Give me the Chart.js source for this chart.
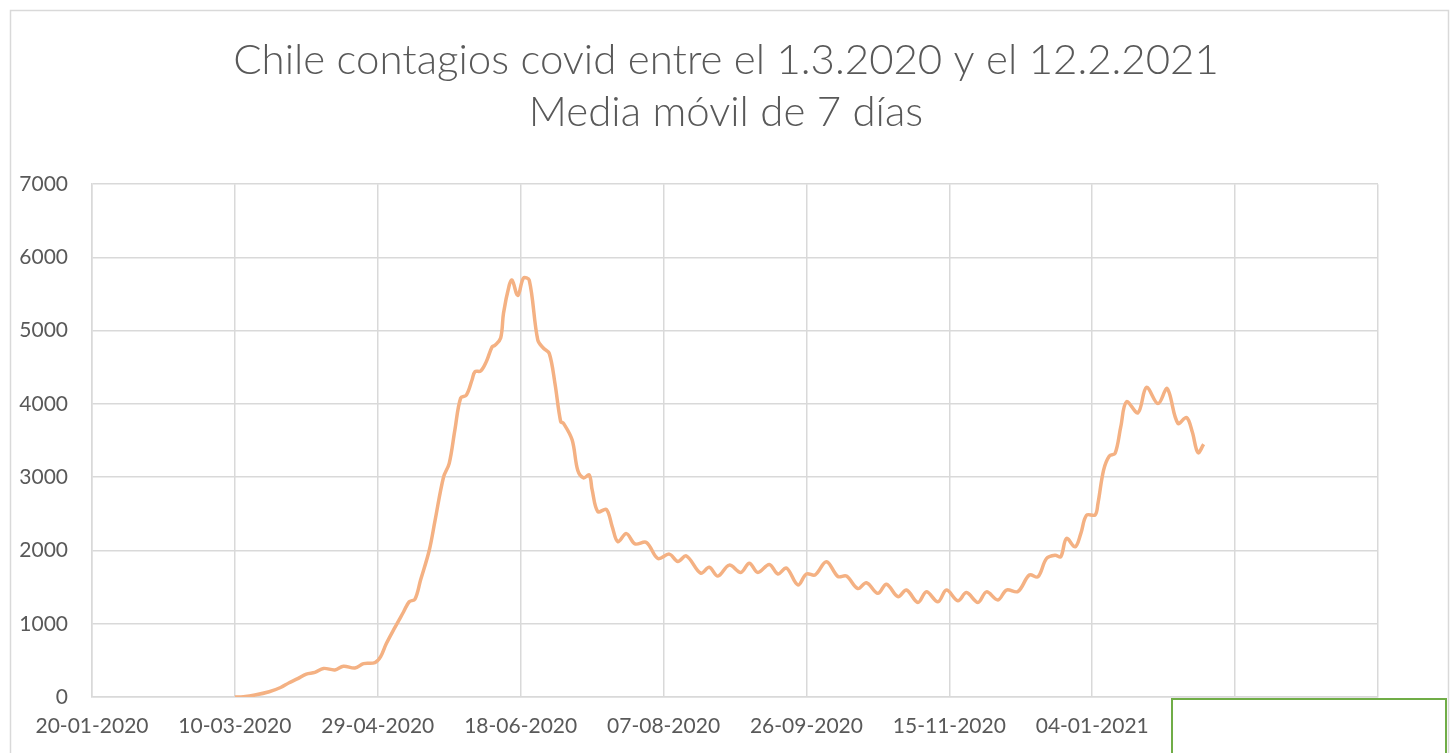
<!DOCTYPE html>
<html>
<head>
<meta charset="utf-8">
<script src="https://cdn.jsdelivr.net/npm/chart.js@4"></script>
<style>
  html, body { margin: 0; padding: 0; background: #fff; }
  #wrap { width: 1452px; height: 753px; position: relative; }
</style>
</head>
<body>
<div id="wrap"><canvas id="chart" width="1452" height="753"></canvas></div>
<script>
const TITLE_LINES = [
  'Chile contagios covid entre el 1.3.2020 y el 12.2.2021',
  'Media móvil de 7 días',
];

// eje x: días desde el 20-01-2020, ticks cada 50 días
const AXIS_START = '2020-01-20';
const X_MAX_DAYS = 450;
const X_STEP_DAYS = 50;
const Y_TICKS = [0, 1000, 2000, 3000, 4000, 5000, 6000, 7000];

const fechas = [
  '2020-03-10', '2020-03-13', '2020-03-17', '2020-03-22', '2020-03-26', '2020-03-29',
  '2020-04-01', '2020-04-04', '2020-04-07', '2020-04-10', '2020-04-14', '2020-04-17',
  '2020-04-21', '2020-04-24', '2020-04-28', '2020-04-30', '2020-05-02', '2020-05-05',
  '2020-05-08', '2020-05-10', '2020-05-12', '2020-05-14', '2020-05-17', '2020-05-19',
  '2020-05-22', '2020-05-24', '2020-05-26', '2020-05-28', '2020-05-30', '2020-06-01',
  '2020-06-02', '2020-06-04', '2020-06-06', '2020-06-08', '2020-06-09', '2020-06-11',
  '2020-06-12', '2020-06-14', '2020-06-15', '2020-06-17', '2020-06-19', '2020-06-21',
  '2020-06-24', '2020-06-26', '2020-06-28', '2020-06-30', '2020-07-02', '2020-07-03',
  '2020-07-06', '2020-07-08', '2020-07-10', '2020-07-12', '2020-07-13', '2020-07-15',
  '2020-07-18', '2020-07-20', '2020-07-22', '2020-07-25', '2020-07-28', '2020-08-01',
  '2020-08-05', '2020-08-09', '2020-08-12', '2020-08-15', '2020-08-20', '2020-08-23',
  '2020-08-26', '2020-08-30', '2020-09-03', '2020-09-06', '2020-09-09', '2020-09-13',
  '2020-09-16', '2020-09-19', '2020-09-23', '2020-09-26', '2020-09-29', '2020-10-03',
  '2020-10-07', '2020-10-10', '2020-10-14', '2020-10-17', '2020-10-21', '2020-10-24',
  '2020-10-28', '2020-10-31', '2020-11-04', '2020-11-07', '2020-11-11', '2020-11-14',
  '2020-11-18', '2020-11-21', '2020-11-25', '2020-11-28', '2020-12-02', '2020-12-05',
  '2020-12-09', '2020-12-13', '2020-12-16', '2020-12-19', '2020-12-22', '2020-12-24',
  '2020-12-26', '2020-12-29', '2020-12-31', '2021-01-02', '2021-01-05', '2021-01-06',
  '2021-01-08', '2021-01-10', '2021-01-12', '2021-01-14', '2021-01-16', '2021-01-20',
  '2021-01-23', '2021-01-27', '2021-01-30', '2021-01-31', '2021-02-03', '2021-02-06',
  '2021-02-08', '2021-02-10', '2021-02-12',
];

const mediaMovil = [
  0, 5, 27, 72, 130, 195,
  250, 313, 335, 390, 370, 420,
  395, 455, 468, 550, 730, 950,
  1160, 1300, 1335, 1600, 2000, 2400,
  3000, 3190, 3650, 4080, 4120, 4330,
  4440, 4450, 4580, 4780, 4800, 4900,
  5240, 5620, 5690, 5480, 5720, 5690,
  4870, 4760, 4690, 4280, 3760, 3735,
  3510, 3090, 2990, 3030, 2830, 2530,
  2560, 2330, 2120, 2230, 2090, 2110,
  1890, 1950, 1850, 1925, 1690, 1770,
  1650, 1800, 1700, 1825, 1700, 1810,
  1680, 1760, 1530, 1680, 1665, 1845,
  1645, 1650, 1480, 1560, 1415, 1540,
  1370, 1460, 1290, 1435, 1300, 1460,
  1315, 1425, 1290, 1435, 1325, 1460,
  1440, 1665, 1640, 1890, 1935, 1915,
  2165, 2050, 2230, 2480, 2485, 2640,
  3100, 3290, 3325, 3690, 4030, 3880,
  4225, 4005, 4210, 4145, 3735, 3815,
  3620, 3335, 3450,
];

const DAY_MS = 86400000;
const baseMs = Date.parse(AXIS_START + 'T00:00:00Z');
const toDays = (iso) => Math.round((Date.parse(iso + 'T00:00:00Z') - baseMs) / DAY_MS);
const fmtDate = (days) => {
  const d = new Date(baseMs + days * DAY_MS);
  const dd = String(d.getUTCDate()).padStart(2, '0');
  const mm = String(d.getUTCMonth() + 1).padStart(2, '0');
  return dd + '-' + mm + '-' + d.getUTCFullYear();
};

const GRID = '#d9d9d9';
const TEXT = '#595959';

// marco exterior y recuadro verde de la esquina
const framePlugin = {
  id: 'frame',
  beforeDraw(chart) {
    const ctx = chart.ctx;
    ctx.save();
    ctx.strokeStyle = GRID;
    ctx.lineWidth = 1.5;
    ctx.strokeRect(10.5, 10.5, 1438, 780);
    ctx.restore();
  },
  afterDraw(chart) {
    const ctx = chart.ctx;
    ctx.save();
    ctx.fillStyle = '#fff';
    ctx.fillRect(1171, 698, 276, 60);
    ctx.strokeStyle = '#70ad47';
    ctx.lineWidth = 2;
    ctx.strokeRect(1172, 699, 274, 70);
    ctx.restore();
  },
};

const chartData = {
  datasets: [
    {
      data: fechas.map((f, i) => ({ x: toDays(f), y: mediaMovil[i] })),
      borderColor: '#f4b183',
      borderWidth: 3.5,
      pointRadius: 0,
      tension: 0.35,
      fill: false,
    },
  ],
};

const chartOptions = {
  responsive: false,
  animation: false,
  layout: { padding: 0 },
  plugins: {
    legend: { display: false },
    tooltip: { enabled: false },
    title: {
      display: true,
      text: TITLE_LINES,
      color: TEXT,
      font: { family: 'Lato', size: 42, weight: '300', lineHeight: 1.24 },
      padding: { top: 34, bottom: 46 },
    },
  },
  scales: {
    x: {
      type: 'linear',
      min: 0,
      max: X_MAX_DAYS,
      afterFit: (axis) => { axis.height = 56; },
      ticks: {
        stepSize: X_STEP_DAYS,
        padding: 17,
        maxRotation: 0,
        autoSkip: false,
        color: TEXT,
        font: { family: 'Lato', size: 21 },
        callback: (v) => (v >= 400 ? '' : fmtDate(v)),
      },
      grid: { color: GRID, lineWidth: 1.5, drawTicks: false },
      border: { color: GRID, width: 1.5 },
    },
    y: {
      min: 0,
      max: 7000,
      afterFit: (axis) => { axis.width = 92; },
      afterBuildTicks: (axis) => { axis.ticks = Y_TICKS.map((v) => ({ value: v })); },
      ticks: {
        padding: 24,
        color: TEXT,
        font: { family: 'Lato', size: 21 },
        callback: (v) => String(v),
      },
      grid: { color: GRID, lineWidth: 1.5, drawTicks: false },
      border: { color: GRID, width: 1.5 },
    },
    // eje vacío a la derecha: sólo reserva el margen, el título queda centrado en el lienzo
    margen: {
      position: 'right',
      afterFit: (axis) => { axis.width = 74; },
      ticks: { display: false },
      grid: { display: false, drawOnChartArea: false },
      border: { display: false },
    },
  },
};

new Chart(document.getElementById('chart'), {
  type: 'line',
  data: chartData,
  options: chartOptions,
  plugins: [framePlugin],
});
</script>
</body>
</html>
